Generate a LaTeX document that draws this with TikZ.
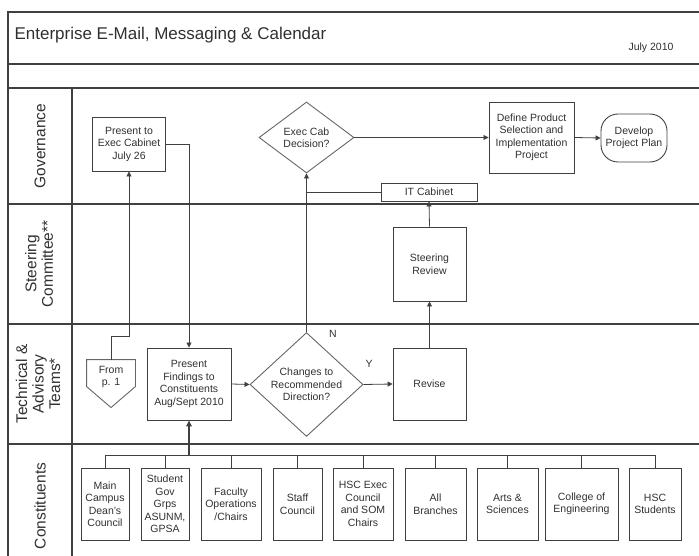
\documentclass[tikz,border=0pt]{standalone}
\usepackage{fontspec}
\setmainfont{Liberation Sans}
\usetikzlibrary{shapes.geometric,arrows.meta,calc}
\definecolor{ln}{HTML}{404040}
\definecolor{tx}{HTML}{303030}
\tikzset{
  lane/.style={draw=ln, line width=1.2pt},
  box/.style={draw=ln, line width=0.9pt, rectangle, align=center, inner sep=0pt, text=tx,
    font=\fontsize{10.5}{12.5}\selectfont},
  dia/.style={draw=ln!80, line width=0.9pt, diamond, align=center, inner sep=0pt, text=tx,
    font=\fontsize{10.5}{12.5}\selectfont},
  conn/.style={draw=ln, line width=0.8pt},
  arr/.style={conn, -{Triangle[length=5pt,width=5pt]}},
  lanelabel/.style={rotate=90, align=center, text=tx, font=\fontsize{15.5}{16.5}\selectfont},
}
\begin{document}
\begin{tikzpicture}[x=1pt,y=-1pt]
\useasboundingbox (0,0) rectangle (699,556);
% frame and lanes
\draw[lane] (699,12) -- (8,12) -- (8,560);
\draw[lane] (8,64) -- (699,64);
\draw[lane] (8,88) -- (699,88);
\draw[lane] (8,204) -- (699,204);
\draw[lane] (8,324) -- (699,324);
\draw[lane] (8,444) -- (699,444);
\draw[lane] (72,88) -- (72,560);
% title
\node[anchor=west, text=tx, font=\fontsize{17}{19}\selectfont] (title) at (11,35) {Enterprise E-Mail, Messaging \& Calendar};
\node[anchor=west, text=tx, font=\fontsize{10.5}{12}\selectfont] (date) at (625,48) {July 2010};
% lane labels
\node[lanelabel] (lgov) at (40,146) {Governance};
\node[lanelabel] (lste) at (39,264) {Steering\\Committee**};
\node[lanelabel] (ltec) at (38,384) {Technical \&\\Advisory\\Teams*};
\node[lanelabel] (lcon) at (40,506) {Constituents};
% governance
\node[box, minimum width=73pt, minimum height=54pt] (pe) at (129,144) {Present to\\Exec Cabinet\\July 26};
\node[dia, minimum width=95pt, minimum height=71pt] (ec) at (306.5,137.5) {Exec Cab\\Decision?};
\node[box, minimum width=85pt, minimum height=71pt] (dp) at (531.5,137.5) {Define Product\\Selection and\\Implementation\\Project};
\node[box, rounded corners=17pt, minimum width=66pt, minimum height=48pt] (pp) at (634,138) {Develop\\Project Plan};
\node[box, minimum width=96pt, minimum height=18pt] (it) at (429,192) {IT Cabinet};
% steering
\node[box, minimum width=73pt, minimum height=74pt] (sr) at (429.5,264) {Steering\\Review};
% technical
\node[box, minimum width=73pt, minimum height=72pt] (rv) at (429.5,384) {Revise};
\node[dia, minimum width=113pt, minimum height=95pt] (cd) at (306.5,384.5) {Changes to\\Recommended\\Direction?};
\node[box, minimum width=84pt, minimum height=72pt] (pf) at (189,384) {Present\\Findings to\\Constituents\\Aug/Sept 2010};
\node[box, draw=none, minimum width=48pt, minimum height=34pt] (fp) at (111,377) {From\\p. 1};
\draw[draw=ln!80, line width=0.9pt] (fp.north west) -- (fp.north east) -- ([yshift=-27pt]fp.north east) -- ([yshift=-48pt]fp.north) -- ([yshift=-27pt]fp.north west) -- cycle;
\node[text=tx, font=\fontsize{10.5}{12}\selectfont] (nlab) at (333,334) {N};
\node[text=tx, font=\fontsize{10.5}{12}\selectfont] (ylab) at (369,364) {Y};
% constituents
\foreach \n/\x/\w/\t in {
  c1/105/48/{Main\\Campus\\Dean's\\Council},
  c2/165/48/{Student\\Gov\\Grps\\ASUNM,\\GPSA},
  c3/231/60/{Faculty\\Operations\\/Chairs},
  c4/297.5/49/{Staff\\Council},
  c5/363/60/{HSC Exec\\Council\\and SOM\\Chairs},
  c6/435.5/61/{All\\Branches},
  c7/507.5/61/{Arts \&\\Sciences},
  c8/581.5/73/{College of\\Engineering},
  c9/655/52/{HSC\\Students}}
  {\node[box, minimum width=\w pt, minimum height=72pt] (\n) at (\x,504) {\t};}
\coordinate (bus) at (189,455);
\coordinate (j1) at (129,336);
% connectors
\draw[arr] (fp.north) |- (j1) -- (pe.south);
\draw[arr] (pe.east) -| (pf.north);
\draw[arr] (pf.east) -- (cd.west);
\draw[arr] (cd.east) -- (rv.west);
\draw[arr] (cd.north) -- (ec.south);
\draw[arr] (rv.north) -- (sr.south);
\draw[arr] (sr.north) -- (it.south);
\draw[conn] (it.west) -- (it.west -| ec.south);
\draw[arr] (ec.east) -- (dp.west);
\draw[arr] (dp.east) -- (pp.west);
\draw[conn, line width=1.6pt, -{Triangle[length=6pt,width=5.5pt]}] (bus) -- (pf.south);
\foreach \n in {c1,c2,c3,c4,c5,c6,c7,c8,c9}
  {\draw[conn] (\n.north) |- (bus);}
\end{tikzpicture}
\end{document}
